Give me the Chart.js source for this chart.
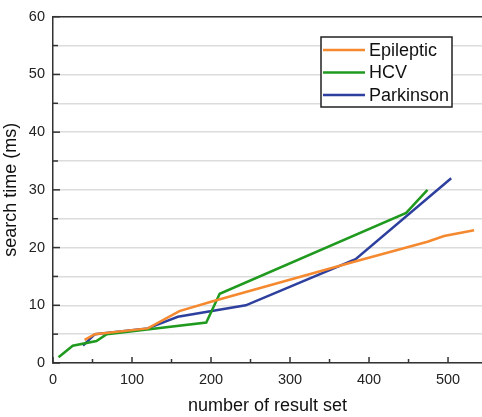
<!DOCTYPE html>
<html>
<head>
<meta charset="utf-8">
<script src="https://cdn.jsdelivr.net/npm/chart.js@4.4.0/dist/chart.umd.min.js"></script>
<style>
  body { margin: 0; background: #fff; }
  #wrap { width: 482px; height: 417px; }
</style>
</head>
<body>
<div id="wrap"><canvas id="search-chart" width="482" height="417"></canvas></div>
<script>
  // data
  const seriesNames = ['Epileptic', 'HCV', 'Parkinson'];
  const seriesColors = ['#f5892f', '#1f9a1f', '#2e409e'];

  const epilepticX = [40, 53, 120, 160, 200, 380, 474, 495, 533];
  const epilepticY = [4, 5, 6, 9, 10.6, 17.5, 21, 22, 23];

  const hcvX = [7, 25, 55, 68, 194, 211, 447, 474];
  const hcvY = [1, 3, 3.8, 5, 7, 12, 26, 30];

  const parkinsonX = [38, 53, 120, 158, 244, 383, 504];
  const parkinsonY = [3, 5, 6, 8, 10, 18, 32];

  const xTicks = [0, 100, 200, 300, 400, 500];
  const yTicks = [0, 10, 20, 30, 40, 50, 60];

  function toPoints(xs, ys) {
    return xs.map((x, i) => ({ x: x, y: ys[i] }));
  }

  const allX = [epilepticX, hcvX, parkinsonX];
  const allY = [epilepticY, hcvY, parkinsonY];

  const datasets = seriesNames.map((name, i) => ({
    label: name,
    data: toPoints(allX[i], allY[i]),
    borderColor: seriesColors[i],
    backgroundColor: seriesColors[i],
    borderWidth: 2.5,
    pointRadius: 0,
    tension: 0,
    fill: false
  }));

  // inward tick marks, top border and boxed legend
  const framePlugin = {
    id: 'frame',
    afterDatasetsDraw(chart) {
      const c = chart.ctx;
      const a = chart.chartArea;
      const xs = chart.scales.x;
      const ys = chart.scales.y;
      c.save();
      c.strokeStyle = '#333';
      c.lineWidth = 1.5;
      // top border
      c.beginPath();
      c.moveTo(a.left, a.top);
      c.lineTo(a.right, a.top);
      c.stroke();
      // y ticks
      for (let v = 0; v <= 60; v += 5) {
        const py = ys.getPixelForValue(v);
        const len = v % 10 === 0 ? 7 : 5;
        c.beginPath();
        c.moveTo(a.left, py);
        c.lineTo(a.left + len, py);
        c.stroke();
      }
      // x ticks
      for (let v = 0; v <= 540; v += 50) {
        const px = xs.getPixelForValue(v);
        const len = v % 100 === 0 ? 6 : 4;
        c.beginPath();
        c.moveTo(px, a.bottom);
        c.lineTo(px, a.bottom - len);
        c.stroke();
      }

      // legend
      const bx = 321, by = 37, bw = 131, bh = 70;
      c.fillStyle = '#fff';
      c.fillRect(bx, by, bw, bh);
      c.strokeStyle = '#222';
      c.lineWidth = 1.5;
      c.strokeRect(bx, by, bw, bh);
      c.font = '18px "Liberation Sans", Arial, sans-serif';
      c.textBaseline = 'middle';
      chart.data.datasets.forEach((ds, i) => {
        const yy = by + 13 + i * 22.5;
        c.strokeStyle = ds.borderColor;
        c.lineWidth = 2.5;
        c.beginPath();
        c.moveTo(bx + 2, yy);
        c.lineTo(bx + 44, yy);
        c.stroke();
        c.fillStyle = '#111';
        c.fillText(ds.label, bx + 48, yy + 1);
      });
      c.restore();
    }
  };

  const ctx = document.getElementById('search-chart').getContext('2d');
  const searchChart = new Chart(ctx, {
    type: 'line',
    data: { datasets: datasets },
    options: {
      responsive: false,
      animation: false,
      layout: { padding: { top: 13, right: 0, left: 0, bottom: 0 } },
      plugins: {
        legend: { display: false },
        tooltip: { enabled: false }
      },
      scales: {
        x: {
          type: 'linear',
          min: 0,
          max: 543,
          afterFit(scale) { scale.height = 54; },
          afterBuildTicks(scale) {
            scale.ticks = xTicks.map(v => ({ value: v }));
          },
          ticks: {
            color: '#222',
            font: { family: '"Liberation Sans", Arial, sans-serif', size: 14.5 },
            padding: 8,
            maxRotation: 0
          },
          grid: { drawOnChartArea: false, drawTicks: false },
          border: { color: '#333', width: 1.5 },
          title: {
            display: true,
            text: 'number of result set',
            color: '#111',
            font: { family: '"Liberation Sans", Arial, sans-serif', size: 18 },
            padding: { top: 6, bottom: 0 }
          }
        },
        y: {
          type: 'linear',
          min: 0,
          max: 60,
          afterFit(scale) { scale.width = 53; },
          afterBuildTicks(scale) {
            const t = [];
            for (let v = 0; v <= 60; v += 5) t.push({ value: v });
            scale.ticks = t;
          },
          ticks: {
            color: '#222',
            font: { family: '"Liberation Sans", Arial, sans-serif', size: 14.5 },
            padding: 8,
            callback: (v) => (yTicks.includes(v) ? v : '')
          },
          grid: { color: '#dcdcdc', lineWidth: 1.5, drawTicks: false },
          border: { color: '#333', width: 1.5 },
          title: {
            display: true,
            text: 'search time (ms)',
            color: '#111',
            font: { family: '"Liberation Sans", Arial, sans-serif', size: 18 },
            padding: { top: 0, bottom: 2 }
          }
        }
      }
    },
    plugins: [framePlugin]
  });
</script>
</body>
</html>
